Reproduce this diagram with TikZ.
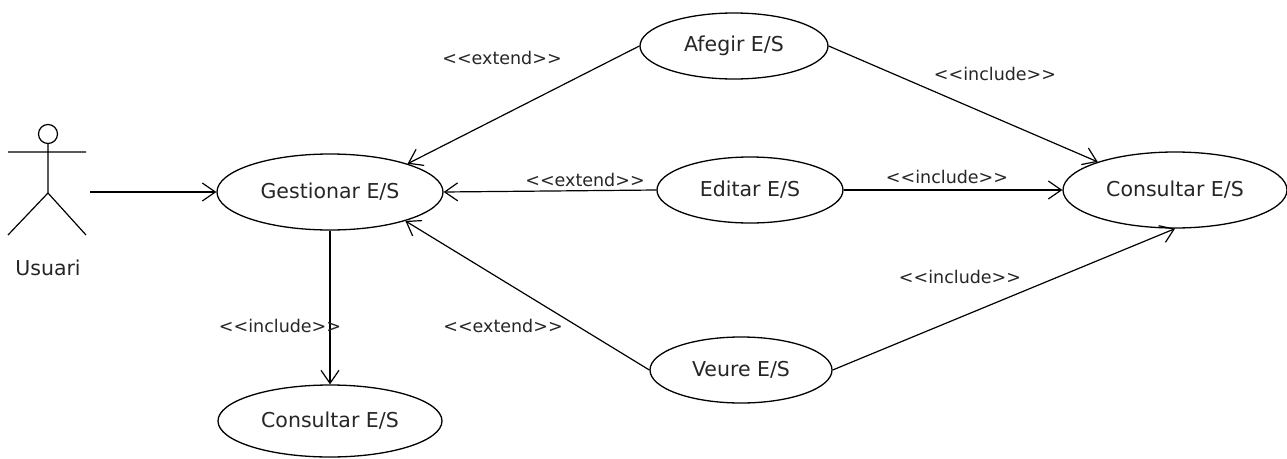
\documentclass[tikz,border=0pt]{standalone}
\usepackage{fontspec}
\setmainfont{DejaVu Sans}
\usetikzlibrary{shapes.geometric,arrows.meta}
\newcommand{\ltlt}{<\kern0pt<}
\newcommand{\gtgt}{>\kern0pt>}
\begin{document}
\begin{tikzpicture}[x=1pt,y=-1pt,
  uc/.style={draw,ellipse,line width=1.3pt,inner sep=0pt,font=\fontsize{20.5}{24}\selectfont,text=black!85},
  rel/.style={line width=1.2pt,-{Straight Barb[length=13pt,width=18pt,line width=1.2pt]}},
  lab/.style={font=\fontsize{17.5}{20}\selectfont,text=black!85,inner sep=0pt}]
\useasboundingbox[fill=white] (0,0) rectangle (1287,458);
% actor
\draw[line width=1.2pt] (48,134) circle (9.5);
\draw[line width=1.2pt] (48,143.5) -- (48,193) (8,152) -- (86,152) (8,235) -- (48,193) -- (86,235);
\node[font=\fontsize{20.5}{24}\selectfont,text=black!85] (usuari) at (48,268) {Usuari};
\coordinate (actor) at (90,192);
% use cases
\node[uc,minimum width=226pt,minimum height=76pt] (gest) at (330,192) {Gestionar E/S};
\node[uc,minimum width=188pt,minimum height=66pt] (afegir) at (734,46) {Afegir E/S};
\node[uc,minimum width=186pt,minimum height=66pt] (editar) at (750,190) {Editar E/S};
\node[uc,minimum width=182pt,minimum height=66pt] (veure) at (741,370) {Veure E/S};
\node[uc,minimum width=224pt,minimum height=76pt] (cons) at (1175,190) {Consultar E/S};
\node[uc,minimum width=224pt,minimum height=72pt] (consb) at (330,421) {Consultar E/S};
% connectors
\draw[rel] (actor) -- (gest.west);
\draw[rel] (gest.south) -- (consb.north);
\draw[rel] (afegir.west) -- (gest.20);
\draw[rel] (editar.west) -- (gest.east);
\draw[rel] (veure.west) -- (gest.-21);
\draw[rel] (afegir.east) -- (cons.160);
\draw[rel] (editar.east) -- (cons.west);
\draw[rel] (veure.east) -- (cons.south);
% labels
\node[lab] (l1) at (502,58) {\ltlt extend\gtgt};
\node[lab] (l2) at (585,180) {\ltlt extend\gtgt};
\node[lab] (l3) at (503,326) {\ltlt extend\gtgt};
\node[lab] (l4) at (995,74) {\ltlt include\gtgt};
\node[lab] (l5) at (947,177) {\ltlt include\gtgt};
\node[lab] (l6) at (960,277) {\ltlt include\gtgt};
\node[lab] (l7) at (280,326) {\ltlt include\gtgt};
\end{tikzpicture}
\end{document}
